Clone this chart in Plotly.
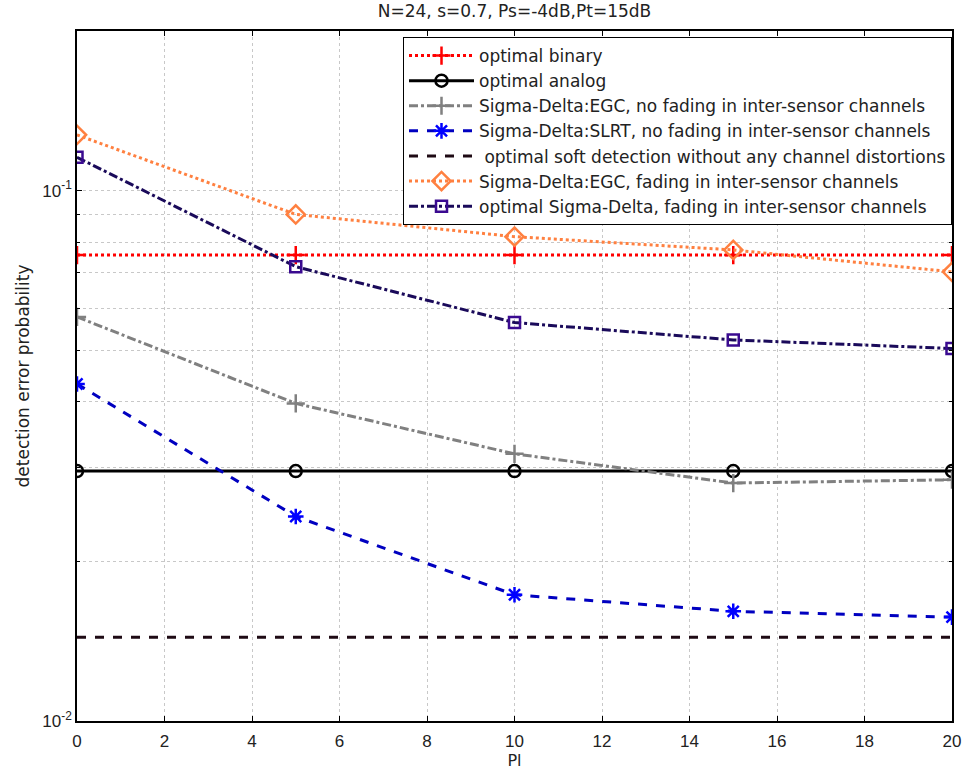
import plotly.graph_objects as go

pl = [0, 5, 10, 15, 20]
optimal_binary = [0.0756, 0.0756, 0.0756, 0.0756, 0.0756]
optimal_analog = [0.0296, 0.0296, 0.0296, 0.0296, 0.0296]
egc_no_fading = [0.0578, 0.0397, 0.0319, 0.0281, 0.0285]
slrt_no_fading = [0.0432, 0.0243, 0.0173, 0.0161, 0.0157]
soft_detection = [0.01438, 0.01438, 0.01438, 0.01438, 0.01438]
egc_fading = [0.1274, 0.0902, 0.0819, 0.0773, 0.0703]
opt_sd_fading = [0.1156, 0.0719, 0.0564, 0.0523, 0.0504]

names = [
    "optimal binary",
    "optimal analog",
    "Sigma-Delta:EGC, no fading in inter-sensor channels",
    "Sigma-Delta:SLRT, no fading in inter-sensor channels",
    " optimal soft detection without any channel distortions",
    "Sigma-Delta:EGC, fading in inter-sensor channels",
    "optimal Sigma-Delta, fading in inter-sensor channels",
]
y_tick_vals = [0.01, 0.1]
y_tick_text = ["10<sup>-2</sup>", "10<sup>-1</sup>"]
y_minor_vals = [0.02, 0.03, 0.04, 0.05, 0.06, 0.07, 0.08, 0.09]

FONT = "DejaVu Sans, Liberation Sans, Arial, sans-serif"
TICKFONT = "Liberation Sans, Arial, sans-serif"

fig = go.Figure()

def add(y, name, color, dash, symbol, msize, mcolor=None, width=3):
    mc = mcolor or color
    fig.add_trace(go.Scatter(
        x=pl, y=y, name=name, legendgroup=name,
        mode="lines+markers" if symbol else "lines",
        line=dict(color=color, width=width, dash=dash),
        marker=dict(symbol=symbol or "circle", size=msize, color=mc,
                    line=dict(color=mc, width=2.5)),
    ))

add(optimal_binary, names[0], "#ff0000", "dot", "cross-thin", 13)
add(optimal_analog, names[1], "#000000", "solid", "circle-open", 12)
add(egc_no_fading, names[2], "#808080", "dashdot", "cross-thin", 13)
add(slrt_no_fading, names[3], "#0000c0", "dash", "asterisk-open", 13, mcolor="#0000ff")
add(soft_detection, names[4], "#1e0a14", "dash", None, 1)
add(egc_fading, names[5], "#ff8040", "dot", "diamond-open", 14)
add(opt_sd_fading, names[6], "#1a0a5a", "dashdot", "square-open", 11, mcolor="#3a0a90")

fig.update_layout(
    width=964, height=776, autosize=False,
    margin=dict(l=77, r=12, t=31, b=55, autoexpand=False),
    paper_bgcolor="white", plot_bgcolor="white",
    font=dict(family=FONT, size=14, color="#222"),
    title=dict(text="N=24, s=0.7, Ps=-4dB,Pt=15dB", x=0.5, xanchor="center",
               xref="paper", y=0.986, yanchor="middle", font=dict(size=17, color="#222")),
    showlegend=True,
    legend=dict(x=1.0, xanchor="right", y=0.9913, yanchor="top",
                bgcolor="white", bordercolor="#000", borderwidth=1,
                font=dict(size=17, color="#222"), tracegroupgap=0,
                itemwidth=65),
)
fig.update_xaxes(
    range=[0, 20], dtick=2, tick0=0, automargin=False,
    showline=True, linecolor="#000", linewidth=1.5, mirror="ticks",
    ticks="inside", ticklen=5, tickcolor="#000",
    showgrid=True, gridcolor="#c8c8c8", griddash="dot", gridwidth=1,
    zeroline=False,
    title=dict(text="Pl", standoff=4, font=dict(size=16)),
    tickfont=dict(family=TICKFONT, size=17),
    ticklabelstandoff=4,
)
fig.update_yaxes(
    type="log", range=[-2, -0.69897], automargin=False,
    tickvals=y_tick_vals, ticktext=y_tick_text,
    showline=True, linecolor="#000", linewidth=1.5, mirror="ticks",
    ticks="inside", ticklen=5, tickcolor="#000",
    showgrid=True, gridcolor="#c8c8c8", griddash="dot", gridwidth=1,
    minor=dict(tickvals=y_minor_vals, ticks="inside", ticklen=3, tickcolor="#000",
               showgrid=True, gridcolor="#c8c8c8", griddash="dot", gridwidth=1),
    zeroline=False,
    title=dict(text="detection error probability", standoff=8, font=dict(size=17)),
    tickfont=dict(family=TICKFONT, size=17),
)

fig.write_html(
    "out.html",
    config={"displayModeBar": False, "responsive": False},
    post_script="document.body.style.margin='0px';document.body.style.overflow='hidden';",
)
